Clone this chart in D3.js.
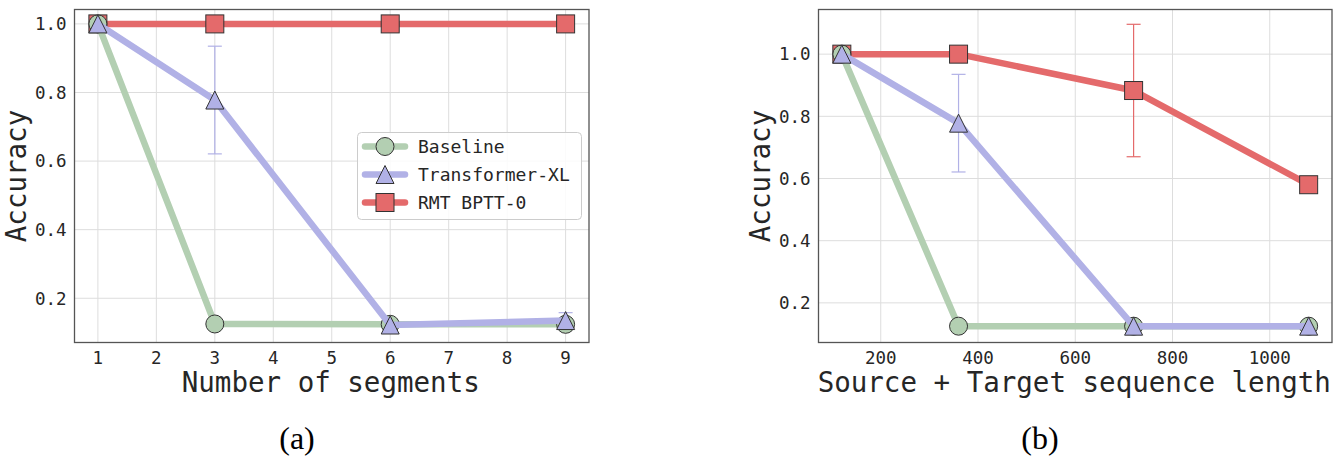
<!DOCTYPE html>
<html><head><meta charset="utf-8">
<script src="https://cdn.jsdelivr.net/npm/d3@7"></script>
<style>body{margin:0;background:#fff}</style></head>
<body><svg id="chart" width="1341" height="459"></svg>
<script>
// ---- data ----
const seriesNames = ["Baseline", "Transformer-XL", "RMT BPTT-0"];
const segments = [1, 3, 6, 9];
const seqLengths = [120, 360, 720, 1080];
const baselineA = [1.0, 0.125, 0.124, 0.124];
const txlA = [1.0, 0.778, 0.122, 0.135];
const txlErrA = [0, 0.157, 0, 0.023];
const rmtA = [1.0, 1.0, 1.0, 1.0];
const baselineB = [1.0, 0.125, 0.125, 0.125];
const txlB = [1.0, 0.778, 0.125, 0.125];
const txlErrB = [0, 0.157, 0, 0];
const rmtB = [1.0, 1.0, 0.883, 0.58];
const rmtErrB = [0, 0, 0.213, 0];
const xTicksA = [1, 2, 3, 4, 5, 6, 7, 8, 9];
const xTicksB = [200, 400, 600, 800, 1000];
const yTicks = [0.2, 0.4, 0.6, 0.8, 1.0];
const xLabelA = "Number of segments";
const xLabelB = "Source + Target sequence length";
const yLabel = "Accuracy";
const captions = ["(a)", "(b)"];

// ---- style ----
const colors = {"Baseline": "#b3cfb2", "Transformer-XL": "#b1b1e6", "RMT BPTT-0": "#e46a6b"};
const shapes = {"Baseline": "circle", "Transformer-XL": "triangle", "RMT BPTT-0": "square"};
const mono = "'DejaVu Sans Mono', monospace";
const svg = d3.select("#chart");

function marker(g, shape, cx, cy, fill) {
  const s = 18;
  if (shape === "circle") {
    g.append("circle").attr("cx", cx).attr("cy", cy).attr("r", s / 2)
      .attr("fill", fill).attr("stroke", "#333").attr("stroke-width", 1);
  } else if (shape === "square") {
    g.append("rect").attr("x", cx - s / 2).attr("y", cy - s / 2).attr("width", s).attr("height", s)
      .attr("fill", fill).attr("stroke", "#333").attr("stroke-width", 1);
  } else {
    const h = s / 2;
    g.append("path").attr("d", `M${cx},${cy - h}L${cx - h},${cy + h}L${cx + h},${cy + h}Z`)
      .attr("fill", fill).attr("stroke", "#333").attr("stroke-width", 1);
  }
}

function panel(cfg) {
  const x = d3.scaleLinear().domain(cfg.xDomain).range([cfg.left, cfg.right]);
  const y = d3.scaleLinear().domain(cfg.yDomain).range([cfg.bottom, cfg.top]);
  const g = svg.append("g");
  // grid
  g.selectAll(".gx").data(cfg.xTicks).join("line")
    .attr("x1", d => x(d)).attr("x2", d => x(d)).attr("y1", cfg.top).attr("y2", cfg.bottom)
    .attr("stroke", "#dddddd").attr("stroke-width", 1);
  g.selectAll(".gy").data(yTicks).join("line")
    .attr("x1", cfg.left).attr("x2", cfg.right).attr("y1", d => y(d)).attr("y2", d => y(d))
    .attr("stroke", "#dddddd").attr("stroke-width", 1);
  // tick labels
  g.selectAll(".tx").data(cfg.xTicks).join("text")
    .attr("x", d => x(d)).attr("y", cfg.bottom + 21).attr("text-anchor", "middle")
    .attr("font-family", mono).attr("font-size", 17.5).attr("fill", "#262626")
    .text(d => d);
  g.selectAll(".ty").data(yTicks).join("text")
    .attr("x", cfg.left - 8).attr("y", d => y(d)).attr("dy", "0.36em").attr("text-anchor", "end")
    .attr("font-family", mono).attr("font-size", 17.5).attr("fill", "#262626")
    .text(d => d.toFixed(1));
  // series
  cfg.series.forEach(s => {
    const col = colors[s.name];
    const pts = cfg.xs.map((xv, i) => [x(xv), y(s.values[i])]);
    if (s.err) {
      s.err.forEach((e, i) => {
        if (!e) return;
        const px = x(cfg.xs[i]);
        const y1 = y(s.values[i] - e), y2 = y(s.values[i] + e);
        g.append("line").attr("x1", px).attr("x2", px).attr("y1", y1).attr("y2", y2)
          .attr("stroke", col).attr("stroke-width", 1.2);
        [y1, y2].forEach(yy => g.append("line").attr("x1", px - 7).attr("x2", px + 7)
          .attr("y1", yy).attr("y2", yy).attr("stroke", col).attr("stroke-width", 1.2));
      });
    }
    g.append("path").attr("d", d3.line()(pts)).attr("fill", "none")
      .attr("stroke", col).attr("stroke-width", 6.5).attr("stroke-linejoin", "round");
    pts.forEach(p => marker(g, shapes[s.name], p[0], p[1], col));
  });
  // frame
  g.append("rect").attr("x", cfg.left).attr("y", cfg.top)
    .attr("width", cfg.right - cfg.left).attr("height", cfg.bottom - cfg.top)
    .attr("fill", "none").attr("stroke", "#555").attr("stroke-width", 1.3);
  // labels
  g.append("text").attr("x", (cfg.left + cfg.right) / 2 - 1).attr("y", cfg.bottom + 49)
    .attr("text-anchor", "middle").attr("font-family", mono).attr("font-size", 27.5).attr("fill", "#262626")
    .text(cfg.xLabel);
  g.append("text").attr("transform", `translate(${cfg.left - 49},${(cfg.top + cfg.bottom) / 2}) rotate(-90)`)
    .attr("text-anchor", "middle").attr("font-family", mono).attr("font-size", 27.5).attr("fill", "#262626")
    .text(yLabel);
  g.append("text").attr("x", cfg.captionX).attr("y", 449)
    .attr("text-anchor", "middle").attr("font-family", "'Liberation Serif', 'Times New Roman', serif")
    .attr("font-size", 32).attr("fill", "#000").text(cfg.caption);
  return {x, y, g};
}

panel({
  left: 74.5, right: 589, top: 9.5, bottom: 342.5,
  xDomain: [0.6, 9.4], yDomain: [0.071, 1.042],
  xTicks: xTicksA, xs: segments, xLabel: xLabelA, caption: captions[0], captionX: 297,
  series: [
    {name: "RMT BPTT-0", values: rmtA},
    {name: "Baseline", values: baselineA},
    {name: "Transformer-XL", values: txlA, err: txlErrA}
  ]
});
panel({
  left: 818.5, right: 1332, top: 9.5, bottom: 342.5,
  xDomain: [72, 1128], yDomain: [0.0725, 1.1436],
  xTicks: xTicksB, xs: seqLengths, xLabel: xLabelB, caption: captions[1], captionX: 1040,
  series: [
    {name: "RMT BPTT-0", values: rmtB, err: rmtErrB},
    {name: "Baseline", values: baselineB},
    {name: "Transformer-XL", values: txlB, err: txlErrB}
  ]
});

// legend (panel a)
const lg = svg.append("g");
lg.append("rect").attr("x", 357.5).attr("y", 132.5).attr("width", 224).attr("height", 87).attr("rx", 4)
  .attr("fill", "#fff").attr("fill-opacity", 0.85).attr("stroke", "#cccccc").attr("stroke-width", 1);
const rowY = [146.5, 174.5, 202.5];
seriesNames.forEach((n, i) => {
  lg.append("line").attr("x1", 365).attr("x2", 405).attr("y1", rowY[i]).attr("y2", rowY[i])
    .attr("stroke", colors[n]).attr("stroke-width", 6.5).attr("stroke-linecap", "round");
  marker(lg, shapes[n], 385, rowY[i], colors[n]);
  lg.append("text").attr("x", 418).attr("y", rowY[i]).attr("dy", "0.36em")
    .attr("font-family", mono).attr("font-size", 18).attr("fill", "#262626").text(n);
});
</script></body></html>
